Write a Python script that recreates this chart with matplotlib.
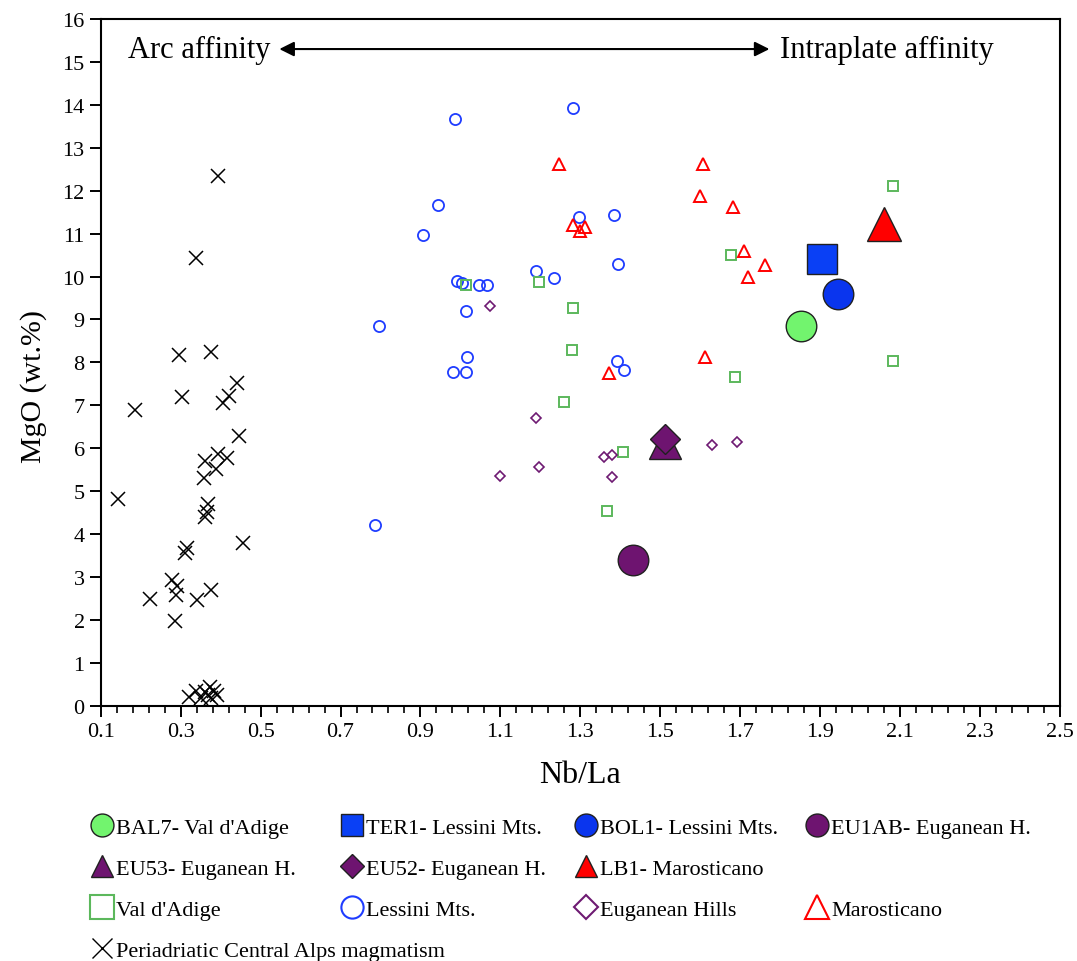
import matplotlib
matplotlib.use("Agg")
import matplotlib.pyplot as plt
import numpy as np
from matplotlib.lines import Line2D
from matplotlib.patches import Rectangle
from matplotlib.ticker import FixedLocator, FormatStrFormatter, MultipleLocator

plt.rcParams['font.family'] = ['Liberation Serif', 'DejaVu Serif']

# Periadriatic Central Alps magmatism (crosses)
cross_x = [0.394, 0.338, 0.297, 0.375, 0.440, 0.303, 0.422, 0.405, 0.187, 0.446,
           0.394, 0.415, 0.362, 0.388, 0.359, 0.143, 0.369, 0.366, 0.361, 0.455,
           0.317, 0.312, 0.279, 0.291, 0.289, 0.223, 0.341, 0.375, 0.285,
           0.321, 0.338, 0.350, 0.361, 0.373, 0.377, 0.383, 0.390, 0.369]
cross_y = [12.35, 10.44, 8.18, 8.25, 7.51, 7.19, 7.21, 7.06, 6.89, 6.28,
           5.87, 5.76, 5.71, 5.51, 5.31, 4.81, 4.69, 4.51, 4.40, 3.78,
           3.68, 3.55, 2.92, 2.78, 2.57, 2.49, 2.47, 2.70, 1.97,
           0.21, 0.34, 0.19, 0.31, 0.44, 0.17, 0.34, 0.26, 0.26]

# Lessini Mts. (open circles)
lessini_x = [0.987, 1.282, 0.943, 0.907, 1.296, 1.383, 1.393, 1.189, 1.234, 0.991,
             1.005, 1.047, 1.066, 1.014, 0.797, 1.017, 0.982, 1.014, 1.391, 1.409, 0.786]
lessini_y = [13.67, 13.93, 11.67, 10.97, 11.38, 11.43, 10.28, 10.14, 9.97, 9.89,
             9.86, 9.80, 9.80, 9.20, 8.85, 8.12, 7.78, 7.78, 8.03, 7.82, 4.21]

# Val d'Adige (open squares)
adige_x = [1.014, 1.197, 1.282, 1.278, 1.259, 1.406, 1.366, 2.083, 1.677, 2.083, 1.687]
adige_y = [9.80, 9.88, 9.26, 8.29, 7.08, 5.90, 4.53, 12.10, 10.50, 8.04, 7.65]

# Euganean Hills (open diamonds)
euganean_x = [1.074, 1.189, 1.197, 1.099, 1.359, 1.380, 1.378, 1.630, 1.693]
euganean_y = [9.32, 6.70, 5.55, 5.36, 5.80, 5.85, 5.32, 6.07, 6.15]

# Marosticano (open triangles)
maro_x = [1.246, 1.281, 1.299, 1.312, 1.372, 1.608, 1.599, 1.683, 1.710, 1.762, 1.719, 1.612]
maro_y = [12.62, 11.20, 11.07, 11.16, 7.75, 12.62, 11.88, 11.63, 10.60, 10.27, 9.98, 8.12]

# single samples (large filled symbols)
sample_names = ["BAL7- Val d'Adige", "TER1- Lessini Mts.", "BOL1- Lessini Mts.",
                "EU1AB- Euganean H.", "EU53- Euganean H.", "EU52- Euganean H.",
                "LB1- Marosticano"]
sample_x = [1.851, 1.905, 1.945, 1.431, 1.512, 1.512, 2.060]
sample_y = [8.85, 10.41, 9.59, 3.39, 6.12, 6.21, 11.22]
sample_marker = ['o', 's', 'o', 'o', '^', 'D', '^']
sample_size = [22, 22, 22, 22, 23, 15, 24]
sample_color = ['#72f46e', '#0a40f5', '#0a35ee', '#6e1470', '#6e1470', '#6e1470', '#ff0000']

blue = '#1e3cff'
green = '#5cb85c'
purple = '#6e1a72'
red = '#ff0000'

fig = plt.figure(figsize=(10.77, 9.62), dpi=100)
ax = fig.add_axes([0.0935, 0.2654, 0.8907, 0.7138])

ax.plot(cross_x, cross_y, 'x', color='black', ms=10, mew=1.1, ls='none')
ax.plot(lessini_x, lessini_y, 'o', mfc='none', mec=blue, ms=8, mew=1.3, ls='none')
ax.plot(adige_x, adige_y, 's', mfc='none', mec=green, ms=7.5, mew=1.4, ls='none')
ax.plot(euganean_x, euganean_y, 'D', mfc='none', mec=purple, ms=5.5, mew=1.2, ls='none')
ax.plot(maro_x, maro_y, '^', mfc='none', mec=red, ms=8.5, mew=1.4, ls='none')

for i in range(len(sample_x)):
    ax.plot(sample_x[i], sample_y[i], sample_marker[i], ms=sample_size[i],
            mfc=sample_color[i], mec='#202020', mew=1.0, ls='none', zorder=3 + i)

ax.set_xlim(0.1, 2.5)
ax.set_ylim(0, 16)
ax.xaxis.set_major_locator(FixedLocator(np.round(np.arange(0.1, 2.51, 0.2), 2)))
ax.xaxis.set_minor_locator(FixedLocator(np.round(np.arange(0.1, 2.51, 0.04), 2)))
ax.xaxis.set_major_formatter(FormatStrFormatter('%.1f'))
ax.yaxis.set_major_locator(MultipleLocator(1))
ax.tick_params(axis='both', which='major', direction='out', length=8, width=1.4,
               labelsize=16, colors='black')
ax.tick_params(axis='x', which='minor', direction='out', length=5, width=1.2)
for sp in ax.spines.values():
    sp.set_linewidth(1.5)

ax.set_xlabel('Nb/La', fontsize=23, labelpad=14)
ax.set_ylabel('MgO (wt.%)', fontsize=21.5)
ax.yaxis.set_label_coords(-0.056, 0.467)

ax.annotate('', xy=(0.54, 15.3), xytext=(1.78, 15.3),
            arrowprops=dict(arrowstyle='<|-|>', color='black', lw=1.5, mutation_scale=22))
ax.text(0.525, 15.3, 'Arc affinity', fontsize=22, ha='right', va='center')
ax.text(1.80, 15.3, 'Intraplate affinity', fontsize=22, ha='left', va='center')

# legend proxies
def proxy(marker, fc, ec, ms, mew=1.0):
    return Line2D([], [], marker=marker, ls='none', mfc=fc, mec=ec, ms=ms, mew=mew)

h_sample = [proxy(sample_marker[i], sample_color[i], '#202020', 16.5 if sample_marker[i] != 'D' else 12)
            for i in range(len(sample_names))]
h_adige = proxy('s', 'none', green, 17, 1.5)
h_lessini = proxy('o', 'none', blue, 16, 1.5)
h_eug = proxy('D', 'none', purple, 12, 1.5)
h_maro = proxy('^', 'none', red, 17, 1.5)
h_cross = proxy('x', 'none', 'black', 15, 1.0)
blank = Rectangle((0, 0), 1, 1, visible=False)

# one legend per column, as in the original layout
legend_cols = [
    ([h_sample[0], h_sample[4], h_adige, h_cross],
     [sample_names[0], sample_names[4], "Val d'Adige", 'Periadriatic Central Alps magmatism'], 101.7),
    ([h_sample[1], h_sample[5], h_lessini],
     [sample_names[1], sample_names[5], "Lessini Mts."], 351.7),
    ([h_sample[2], h_sample[6], h_eug],
     [sample_names[2], sample_names[6], "Euganean Hills"], 585.7),
    ([h_sample[3], blank, h_maro],
     [sample_names[3], ' ', "Marosticano"], 817),
]
for hs, ls, xc in legend_cols:
    leg = fig.legend(hs, ls, loc='upper left', bbox_to_anchor=((xc - 12.2) / 1077, 1 - 818 / 962),
                     frameon=False, fontsize=16, handlelength=1.1, handletextpad=0.1,
                     labelspacing=0.93, borderpad=0, borderaxespad=0)

fig.savefig('out.png', dpi=100)
